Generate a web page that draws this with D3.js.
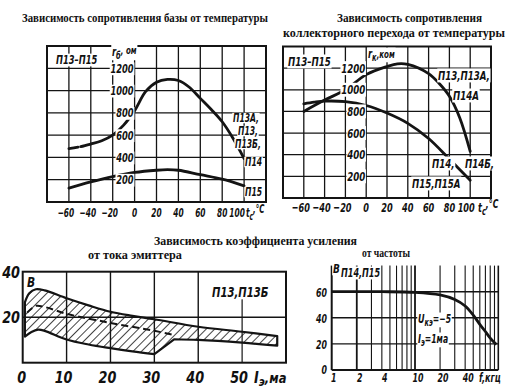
<!DOCTYPE html>
<html><head><meta charset="utf-8">
<script src="https://cdn.jsdelivr.net/npm/d3@7/dist/d3.min.js"></script>
<style>
body{margin:0;background:#fff}
svg{display:block}
.t{font-family:"Liberation Serif","Times New Roman",serif;font-weight:bold;font-size:12px;fill:#111}
.n{font-family:"DejaVu Sans Condensed","DejaVu Sans",sans-serif;font-style:italic;font-weight:bold;fill:#111}
</style></head><body>
<svg id="c" width="521" height="391"></svg>
<script>
// ---------- DATA ----------
// Panel 1: base resistance r_б (Ом) vs temperature
const p1UpperT = [-60,-50,-40,-30,-20,-10,0,10,20,30,40,50,60,70,80,90,100];
const p1UpperR = [480,495,520,550,600,690,820,990,1075,1100,1090,1030,930,830,720,570,390];
const p1LowerT = [-60,-40,-20,0,20,30,40,60,80,100];
const p1LowerR = [125,180,228,265,285,290,285,245,205,145];
// Panel 2: collector resistance r_к (кОм) vs temperature
const p2UpperT = [-60,-40,-20,0,20,30,40,60,70,80,90,100];
const p2UpperR = [800,905,1000,1140,1215,1240,1235,1150,1060,940,740,430];
const p2LowerT = [-60,-50,-40,-20,0,20,40,60,80,100];
const p2LowerR = [870,885,895,890,855,785,690,550,360,165];
const tempTicks = [-60,-40,-20,0,20,40,60,80,100];
const resTicks = [200,400,600,800,1000,1200];
// Panel 3: gain B vs emitter current (band)
const p3UpperI = [0.5,1.5,3,5,10,15,20,25,30,40,50,58];
const p3UpperB = [26.5,30.5,32.3,31.8,28.3,25.2,22.4,20.6,19.1,15.8,13.6,11.7];
const p3LowLeftI = [0.5,2,3.5,5,10,15,20,25,30];
const p3LowLeftB = [11.5,13.5,14.5,14,10.2,8,6.4,5,3.8];
const p3LowRightI = [34.5,40,50,58];
const p3LowRightB = [10.3,10,8.8,7.5];
const p3MidI = [1,3,5,10,20,30,34.5];
const p3MidB = [22,25,24.5,21.5,17.5,14,12.2];
const p3TicksX = [0,10,20,30,40,50];
const p3TicksY = [20,40];
// Panel 4: gain B vs frequency
const p4F = [1,2,4,10,20,30,40,50,60,70,80,95];
const p4B = [60,60,60,59.5,57.5,54,49,42,35,29.5,24.5,19.5];
const p4Grid = [2,3,4,5,6,7,8,9,10,20,30,40,50,60,70,80,90];
const p4TicksX = [1,2,4,10,20,40];
const p4TicksY = [0,20,40,60];

// ---------- HELPERS ----------
const svg = d3.select('#c');
const INK = '#141414';

function title(txt, x0, x1, y) {
  svg.append('text').attr('class','t').attr('x',x0).attr('y',y)
    .attr('textLength',x1-x0).attr('lengthAdjust','spacingAndGlyphs').text(txt);
}
// condensed italic label: parts = [[text, dy, sizeFactor], ...]
function rich(g, x, y, parts, size, anchor, bg, sx) {
  const gg = g.append('g').attr('transform',`translate(${x},${y}) scale(${sx||0.74},1)`);
  const t = gg.append('text').attr('class','n').attr('x',0).attr('y',0)
    .attr('font-size',size).attr('text-anchor',anchor||'start');
  parts.forEach(p => t.append('tspan').attr('dy',p[1]).attr('font-size',size*(p[2]||1)).text(p[0]));
  if (bg) {
    const b = t.node().getBBox();
    gg.insert('rect', () => t.node()).attr('x',b.x-1).attr('y',b.y+1)
      .attr('width',b.width+2).attr('height',b.height-2).attr('fill','#fff');
  }
  return t;
}
function lab(g, x, y, txt, size, anchor, bg, sx) {
  return rich(g, x, y, [[txt,0]], size, anchor, bg, sx);
}
function hline(g, x1, x2, y, w) {
  g.append('line').attr('x1',x1).attr('x2',x2).attr('y1',y).attr('y2',y)
   .attr('stroke',INK).attr('stroke-width',w);
}
function vline(g, x, y1, y2, w) {
  g.append('line').attr('x1',x).attr('x2',x).attr('y1',y1).attr('y2',y2)
   .attr('stroke',INK).attr('stroke-width',w);
}

// ---------- HATCH PATTERN ----------
const defs = svg.append('defs');
defs.append('pattern').attr('id','hatch').attr('patternUnits','userSpaceOnUse')
  .attr('width',6).attr('height',6).attr('patternTransform','rotate(45)')
  .append('line').attr('x1',0).attr('y1',0).attr('x2',0).attr('y2',6)
  .attr('stroke',INK).attr('stroke-width',1.6);

// ---------- TITLES ----------
title('Зависимость сопротивления базы от температуры', 22, 268, 22);
title('Зависимость сопротивления', 337, 482, 22);
title('коллекторного перехода от температуры', 283, 505, 37);
title('Зависимость коэффициента усиления', 154, 357, 245);
title('от тока эмиттера', 88, 182, 259);
title('от частоты', 362, 410, 257);

// ---------- TEMPERATURE PANELS ----------
function tempPanel(cfg) {
  const g = svg.append('g');
  const x = d3.scaleLinear().domain([-80,120]).range([cfg.x0,cfg.x1]);
  const y = d3.scaleLinear().domain([0,1400]).range([cfg.y0,cfg.y1]);
  tempTicks.forEach(t => vline(g, x(t), y(0), y(1400), 1.3));
  resTicks.forEach(r => hline(g, x(-80), x(120), y(r), 1.3));
  g.append('rect').attr('x',x(-80)).attr('y',y(1400)).attr('width',x(120)-x(-80))
    .attr('height',y(0)-y(1400)).attr('fill','none').attr('stroke',INK).attr('stroke-width',2);
  const line = d3.line().x(d=>x(d[0])).y(d=>y(d[1])).curve(d3.curveCatmullRom.alpha(0.5));
  cfg.curves.forEach(c => {
    g.append('path').attr('d', line(c.t.map((t,i)=>[t,c.r[i]])))
     .attr('fill','none').attr('stroke',INK).attr('stroke-width',2.8)
     .attr('stroke-linecap','round')
     .attr('stroke-dasharray', c.dash || null);
  });
  // y tick labels
  resTicks.forEach(r => lab(g, x(0)-1, y(r)+4.5, String(r), cfg.ySize, 'end', true));
  // x tick labels
  tempTicks.forEach(t => {
    const txt = t < 0 ? '−' + Math.abs(t) : String(t);
    const off = (t < 0 ? -3 : 0) + (t === 100 ? cfg.off100 : 0);
    lab(g, x(t)+off, cfg.xBase, txt, cfg.xSize, 'middle', false, cfg.xSx);
  });
  rich(g, cfg.tcX, cfg.xBase, [['t',0],['c',3,0.8],[',°C',-7,0.95]], cfg.xSize, 'start', false, cfg.xSx);
  cfg.extra(g, x, y);
}

tempPanel({
  x0:47, x1:266, y0:202, y1:46, ySize:12.5, xSize:12.5, xSx:0.66, xBase:217, off100:-7, tcX:246,
  curves:[{t:p1UpperT, r:p1UpperR, dash:'9,3,2000'},{t:p1LowerT, r:p1LowerR}],
  extra:(g,x,y) => {
    lab(g, 56, 64, 'П13–П15', 12.5, 'start', true);
    rich(g, 112, 56, [['r',0],['б',3,0.8],[', ом',-5,0.85]], 12.5, 'start', true);
    lab(g, 233, 122, 'П13А,', 11.5, 'start', true);
    lab(g, 238, 135, 'П13,', 11.5, 'start', true);
    lab(g, 235, 148, 'П13Б,', 11.5, 'start', true);
    lab(g, 245, 166, 'П14', 11.5, 'start', true);
    lab(g, 245, 196, 'П15', 11.5, 'start', true);
  }
});

tempPanel({
  x0:283, x1:491, y0:198, y1:46.5, ySize:13, xSize:13, xSx:0.7, xBase:212, off100:-4, tcX:478,
  curves:[{t:p2UpperT, r:p2UpperR},{t:p2LowerT, r:p2LowerR}],
  extra:(g,x,y) => {
    lab(g, 288, 66, 'П13–П15', 13, 'start', true);
    rich(g, 368, 58, [['r',0],['к',3,0.8],[',ком',-3,0.85]], 12.5, 'start', true);
    lab(g, 438, 80, 'П13,П13А,', 13, 'start', true);
    lab(g, 453, 100, 'П14А', 13, 'start', true);
    lab(g, 432, 168, 'П14,', 13, 'start', true);
    lab(g, 465, 168, 'П14Б,', 13, 'start', true);
    lab(g, 412, 188, 'П15,П15А', 13, 'start', true);
  }
});

// ---------- PANEL 3: B vs I_э ----------
(function(){
  const g = svg.append('g');
  const x = d3.scaleLinear().domain([0,60]).range([22.7,286]);
  const y = d3.scaleLinear().domain([0,40]).range([362.7,271.7]);
  [10,20,30,40].forEach(v => vline(g, x(v), y(0), y(40), 1.4));
  vline(g, x(50), y(28.4), y(0), 1.2);
  hline(g, x(0), x(60), y(20), 1.4);
  g.append('rect').attr('x',x(0)).attr('y',y(40)).attr('width',x(60)-x(0))
    .attr('height',y(0)-y(40)).attr('fill','none').attr('stroke',INK).attr('stroke-width',2);
  const L = d3.line().x(d=>x(d[0])).y(d=>y(d[1])).curve(d3.curveCatmullRom.alpha(0.5));
  const pts = (a,b) => a.map((v,i)=>[v,b[i]]);
  const up = pts(p3UpperI,p3UpperB);
  const lr = pts(p3LowRightI,p3LowRightB).reverse();
  const ll = pts(p3LowLeftI,p3LowLeftB).reverse();
  const d = L(up) + L(lr).replace(/^M/,'L') + L(ll).replace(/^M/,'L') + 'Z';
  g.append('path').attr('d',d).attr('fill','url(#hatch)').attr('stroke',INK)
    .attr('stroke-width',2.2).attr('stroke-linejoin','round');
  g.append('path').attr('d',L(pts(p3MidI,p3MidB))).attr('fill','none').attr('stroke',INK)
    .attr('stroke-width',2).attr('stroke-dasharray','7,4');
  lab(g, 27, 287, 'В', 14, 'start', false, 0.85);
  lab(g, 212, 297, 'П13,П13Б', 14, 'start', true, 0.8);
  p3TicksY.forEach(v => lab(g, 20, y(v)+6, String(v), 15, 'end', false, 0.95));
  p3TicksX.forEach(v => lab(g, x(v)-3 + (v===0?2:0), 383, String(v), 15, 'middle', false, 0.95));
  rich(g, 254, 383, [['I',0],['э',3,0.8],[',ма',-3,0.9]], 15, 'start', false, 0.95);
})();

// ---------- PANEL 4: B vs f ----------
(function(){
  const g = svg.append('g');
  const x = d3.scaleLog().domain([1,100]).range([331.7,498.3]);
  const y = d3.scaleLinear().domain([0,80]).range([370,265.6]);
  p4Grid.forEach(f => vline(g, x(f), y(80), y(0), (f===2||f===10)?1.8:1.1));
  vline(g, x(1), y(80), y(0), 2);
  vline(g, x(100), y(80), y(0), 1.6);
  [20,40,60].forEach(v => hline(g, x(1), x(100), y(v), 1.4));
  hline(g, x(1), x(100), y(0), 2);
  const L = d3.line().x(d=>x(d[0])).y(d=>y(d[1])).curve(d3.curveCatmullRom.alpha(0.5));
  g.append('path').attr('d',L(p4F.map((f,i)=>[f,p4B[i]]))).attr('fill','none')
    .attr('stroke',INK).attr('stroke-width',2.8);
  lab(g, 333, 273, 'В', 12.5, 'start', true, 0.8);
  lab(g, 341, 277, 'П14,П15', 12.5, 'start', true, 0.72);
  rich(g, 418, 323, [['U',0],['кэ',3,0.8],['=−5',-3,0.95]], 12.5, 'start', true, 0.72);
  rich(g, 418, 343, [['I',0],['э',3,0.8],['=1ма',-3,0.95]], 12.5, 'start', true, 0.72);
  p4TicksY.forEach(v => lab(g, 327, y(v)+5 - (v===0?1:0), String(v), 12.5, 'end', false, 0.7));
  p4TicksX.forEach(v => lab(g, x(v)+ (v===1?2:3), 382, String(v), 12.5, 'middle', false, 0.7));
  lab(g, 479, 382, 'f,кгц', 12.5, 'start', false, 0.72);
})();
</script>
</body></html>
